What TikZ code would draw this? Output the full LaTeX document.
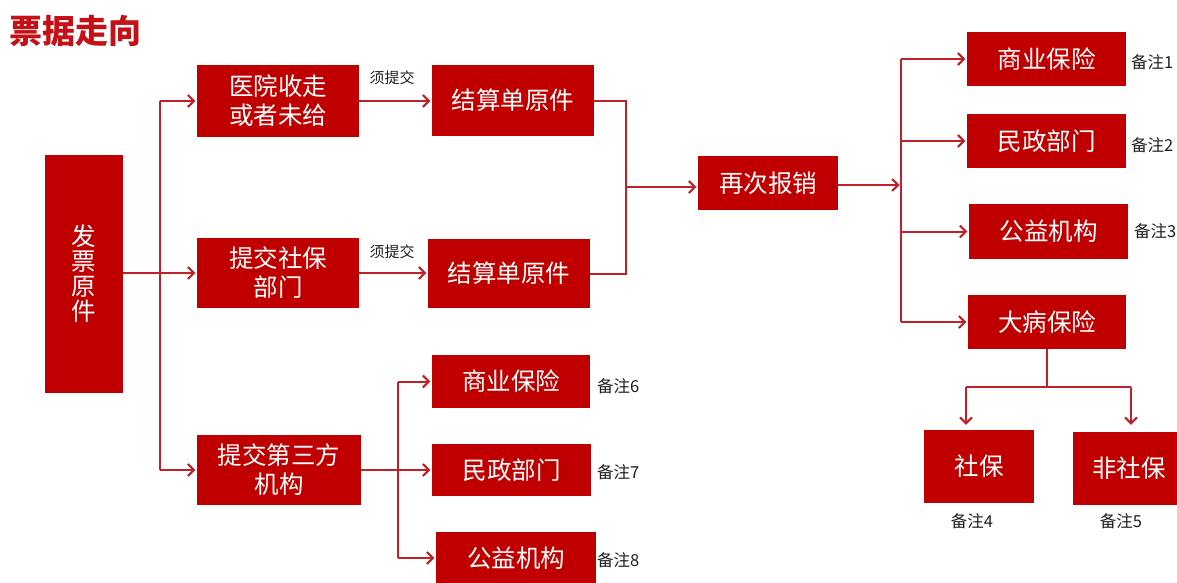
\documentclass[tikz,border=0pt]{standalone}
\usepackage{fontspec}
\setmainfont{Noto Sans CJK SC}
\usetikzlibrary{arrows.meta}
\definecolor{boxred}{RGB}{192,0,0}
\definecolor{linered}{RGB}{192,32,40}
\definecolor{titlered}{RGB}{196,16,22}
\definecolor{notegray}{RGB}{30,30,30}
\begin{document}
\begin{tikzpicture}[x=1pt,y=-1pt,
  box/.style={fill=boxred, text=white, inner sep=0pt, align=center,
    font=\fontsize{24.5}{29}\selectfont},
  conn/.style={draw=linered, line width=2pt},
  arr/.style={conn, -{Straight Barb[length=6pt,width=12pt,line width=2pt]}, shorten >=1.5pt},
  note/.style={text=notegray, inner sep=0pt, font=\fontsize{16.5}{18}\selectfont},
  small/.style={text=notegray, inner sep=0pt, font=\fontsize{15}{17}\selectfont}]
\useasboundingbox (0,0) rectangle (1177,582);

\node[text=titlered, inner sep=0pt, anchor=west, font=\fontsize{33}{36}\bfseries\selectfont] (title) at (9,31) {票据走向};

% boxes
\node[box, minimum width=78pt, minimum height=238pt, font=\fontsize{24.5}{25}\selectfont] (fp) at (84,274) {发\\票\\原\\件};
\node[box, minimum width=162pt, minimum height=72pt] (yy) at (278,101) {医院收走\\或者未给};
\node[box, minimum width=162pt, minimum height=70pt] (sb) at (278,273) {提交社保\\部门};
\node[box, minimum width=164pt, minimum height=70pt] (ds) at (279,470) {提交第三方\\机构};
\node[box, minimum width=162pt, minimum height=71pt] (js1) at (513,100.5) {结算单原件};
\node[box, minimum width=162pt, minimum height=69pt] (js2) at (509,273.5) {结算单原件};
\node[box, minimum width=140pt, minimum height=54pt] (zc) at (768,183) {再次报销};
\node[box, minimum width=159pt, minimum height=54pt] (r1) at (1046.5,59) {商业保险};
\node[box, minimum width=159pt, minimum height=54pt] (r2) at (1046.5,141) {民政部门};
\node[box, minimum width=159pt, minimum height=55pt] (r3) at (1048.5,231.5) {公益机构};
\node[box, minimum width=158pt, minimum height=54pt] (r4) at (1047,322) {大病保险};
\node[box, minimum width=110pt, minimum height=73pt] (shb) at (979,466.5) {社保};
\node[box, minimum width=112pt, minimum height=73pt] (fsb) at (1129,468.5) {非社保};
\node[box, minimum width=158pt, minimum height=53pt] (m1) at (511,381.5) {商业保险};
\node[box, minimum width=159pt, minimum height=52pt] (m2) at (511.5,470) {民政部门};
\node[box, minimum width=160pt, minimum height=52pt] (m3) at (516,558) {公益机构};

% labels
\node[small] (t1) at (392,78) {须提交};
\node[small] (t2) at (392,252) {须提交};
\node[note, anchor=west] (n1) at (1131,62) {备注1};
\node[note, anchor=west] (n2) at (1131,145) {备注2};
\node[note, anchor=west] (n3) at (1134,231) {备注3};
\node[note] (n4) at (972,521) {备注4};
\node[note] (n5) at (1121,521) {备注5};
\node[note, anchor=west] (n6) at (597,386) {备注6};
\node[note, anchor=west] (n7) at (597,472) {备注7};
\node[note, anchor=west] (n8) at (597,560) {备注8};

% connectors from 发票原件
\coordinate (b1) at (160,273);
\draw[conn] (fp.east |- b1) -- (b1);
\draw[conn] (b1 |- yy.west) -- (b1 |- ds.west);
\draw[arr] (b1 |- yy.west) -- (yy.west);
\draw[arr] (b1) -- (sb.west);
\draw[arr] (b1 |- ds.west) -- (ds.west);

% 须提交
\draw[arr] (yy.east) -- (js1.west |- yy.east);
\draw[arr] (sb.east) -- (js2.west |- sb.east);

% merge to 再次报销
\coordinate (b2) at (626,187);
\draw[conn] (js1.east) -| (b2);
\draw[conn] (js2.east) -| (b2);
\draw[arr] (b2) -- (b2 -| zc.west);

% from 再次报销
\coordinate (b3) at (901,185);
\draw[arr] (zc.east |- b3) -- (b3);
\draw[conn] (b3 |- r1.west) -- (b3 |- r4.west);
\draw[arr] (b3 |- r1.west) -- (r1.west);
\draw[arr] (b3 |- r2.west) -- (r2.west);
\draw[arr] (b3 |- r3.west) -- (r3.west);
\draw[arr] (b3 |- r4.west) -- (r4.west);

% 大病保险 split
\coordinate (b4) at (1047,387);
\coordinate (b4l) at (966,387);
\coordinate (b4r) at (1131,387);
\draw[conn] (r4.south) -- (b4);
\draw[conn] (b4l) -- (b4r);
\draw[arr, shorten >=5pt] (b4l) -- (b4l |- shb.north);
\draw[arr, shorten >=7pt] (b4r) -- (b4r |- fsb.north);

% 第三方 branch
\coordinate (b5) at (398,470);
\draw[conn] (ds.east) -- (b5);
\draw[conn] (b5 |- m1.west) -- (b5 |- m3.west);
\draw[arr] (b5 |- m1.west) -- (m1.west);
\draw[arr] (b5) -- (m2.west);
\draw[arr] (b5 |- m3.west) -- (m3.west);
\end{tikzpicture}
\end{document}
